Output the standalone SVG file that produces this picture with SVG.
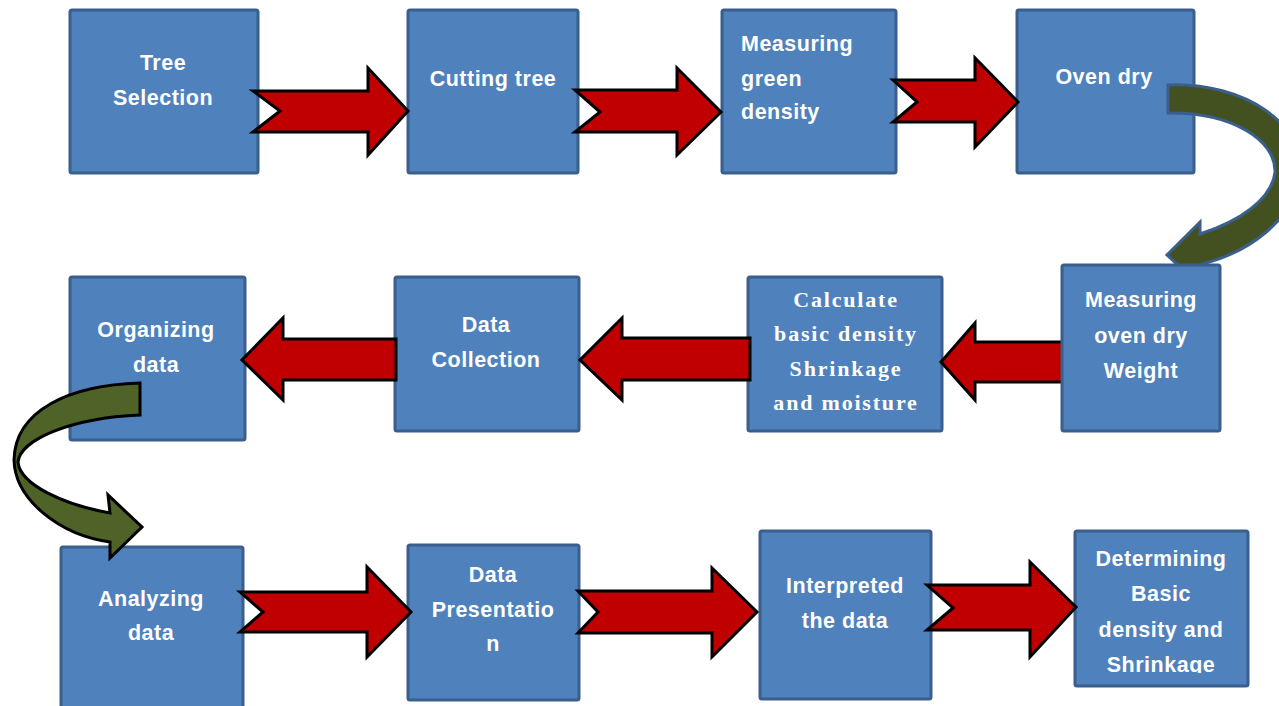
<svg xmlns="http://www.w3.org/2000/svg" width="1279" height="706" viewBox="0 0 1279 706">
<style>
.box{fill:#4F81BD;stroke:#3A5F8C;stroke-width:3}
.t{font-family:"Liberation Sans",Arial,sans-serif;font-weight:bold;font-size:21.5px;fill:#fff;text-anchor:middle;letter-spacing:0.5px}
.tl{text-anchor:start}
.s{font-family:"Liberation Serif","Times New Roman",serif;font-weight:bold;font-size:22px;fill:#fff;text-anchor:middle;letter-spacing:1.8px}
.ra{fill:#C00000;stroke:#000;stroke-width:3;stroke-linejoin:miter}
</style>
<defs>
<clipPath id="clipDet"><rect x="1075" y="531" width="174" height="142"/></clipPath>
</defs>
<rect width="1279" height="706" fill="#fff"/>
<g id="n1"><rect class="box" x="70" y="10" width="188" height="163" rx="2"/><text class="t" x="163" y="70">Tree</text><text class="t" x="163" y="105">Selection</text></g>
<g id="n2"><rect class="box" x="408" y="10" width="170" height="163" rx="2"/><text class="t" x="493" y="86">Cutting tree</text></g>
<g id="n3"><rect class="box" x="722" y="10" width="174" height="163" rx="2"/><text class="t tl" x="741" y="51">Measuring</text><text class="t tl" x="741" y="86">green</text><text class="t tl" x="741" y="119">density</text></g>
<g id="n4"><rect class="box" x="1017" y="10" width="177" height="163" rx="2"/><text class="t" x="1104" y="84">Oven dry</text></g>
<g id="n6"><rect class="box" x="748" y="277" width="194" height="154" rx="2"/><text class="s" x="846" y="307">Calculate</text><text class="s" x="846" y="341">basic density</text><text class="s" x="846" y="376">Shrinkage</text><text class="s" x="846" y="410">and moisture</text></g>
<g id="n7"><rect class="box" x="395" y="277" width="184" height="154" rx="2"/><text class="t" x="486" y="332">Data</text><text class="t" x="486" y="367">Collection</text></g>
<g id="n8"><rect class="box" x="70" y="277" width="175" height="163" rx="2"/><text class="t" x="156" y="337">Organizing</text><text class="t" x="156" y="372">data</text></g>
<g id="n9"><rect class="box" x="61" y="547" width="182" height="165" rx="2"/><text class="t" x="151" y="606">Analyzing</text><text class="t" x="151" y="640">data</text></g>
<g id="n10"><rect class="box" x="408" y="545" width="171" height="155" rx="2"/><text class="t" x="493" y="582">Data</text><text class="t" x="493" y="617">Presentatio</text><text class="t" x="493" y="651">n</text></g>
<g id="n11"><rect class="box" x="760" y="531" width="171" height="168" rx="2"/><text class="t" x="845" y="593">Interpreted</text><text class="t" x="845" y="628">the data</text></g>
<g id="n12"><rect class="box" x="1075" y="531" width="173" height="155" rx="2"/><g clip-path="url(#clipDet)"><text class="t" x="1161" y="566">Determining</text><text class="t" x="1161" y="601">Basic</text><text class="t" x="1161" y="637">density and</text><text class="t" x="1161" y="672">Shrinkage</text></g></g>
<g id="connectors">
<path class="ra" d="M253,91 L368,91 L368,68 L408,111 L368,155 L368,132 L253,132 L280,111 Z"/>
<path class="ra" d="M575,90 L677,90 L677,68 L721,112 L677,155 L677,132 L575,132 L600,112 Z"/>
<path class="ra" d="M893,80 L975,80 L975,58 L1018,102 L975,147 L975,122 L893,122 L917,102 Z"/>
<path class="ra" d="M1063,342 L975,342 L975,323 L941,362 L975,400 L975,382 L1063,382 Z"/>
<path class="ra" d="M750,338 L622,338 L622,318 L580,360 L622,400 L622,380 L750,380 Z"/>
<path class="ra" d="M396,339 L283,339 L283,318 L242,360 L283,400 L283,380 L396,380 Z"/>
<path class="ra" d="M240,592 L367,592 L367,567 L411,612 L367,657 L367,632 L240,632 L263,612 Z"/>
<path class="ra" d="M578,591 L712,591 L712,568 L757,612 L712,657 L712,633 L578,633 L598,612 Z"/>
<path class="ra" d="M927,585 L1030,585 L1030,562 L1076,607 L1030,657 L1030,630 L927,630 L953,608 Z"/>
<path d="M1168,85 C1245,82 1308,125 1300,178 C1292,220 1250,252 1202,264 L1205,290 L1167,255 L1200,222 L1200,234 C1238,222 1272,200 1275,172 C1276,140 1232,112 1168,113 Z" fill="#42511F" stroke="#3A5F8C" stroke-width="3" stroke-linejoin="miter"/>
<path d="M140,383 C70,385 15,410 14,460 C15,500 60,535 110,542 L110,558 L142,527 L108,495 L110,513 C65,505 20,485 18,462 C20,440 70,418 140,415 Z" fill="#4F6228" stroke="#000" stroke-width="3" stroke-linejoin="miter"/>
</g>
<g id="n5"><rect class="box" x="1062" y="265" width="158" height="166" rx="2"/><text class="t" x="1141" y="307">Measuring</text><text class="t" x="1141" y="343">oven dry</text><text class="t" x="1141" y="378">Weight</text></g>
</svg>
